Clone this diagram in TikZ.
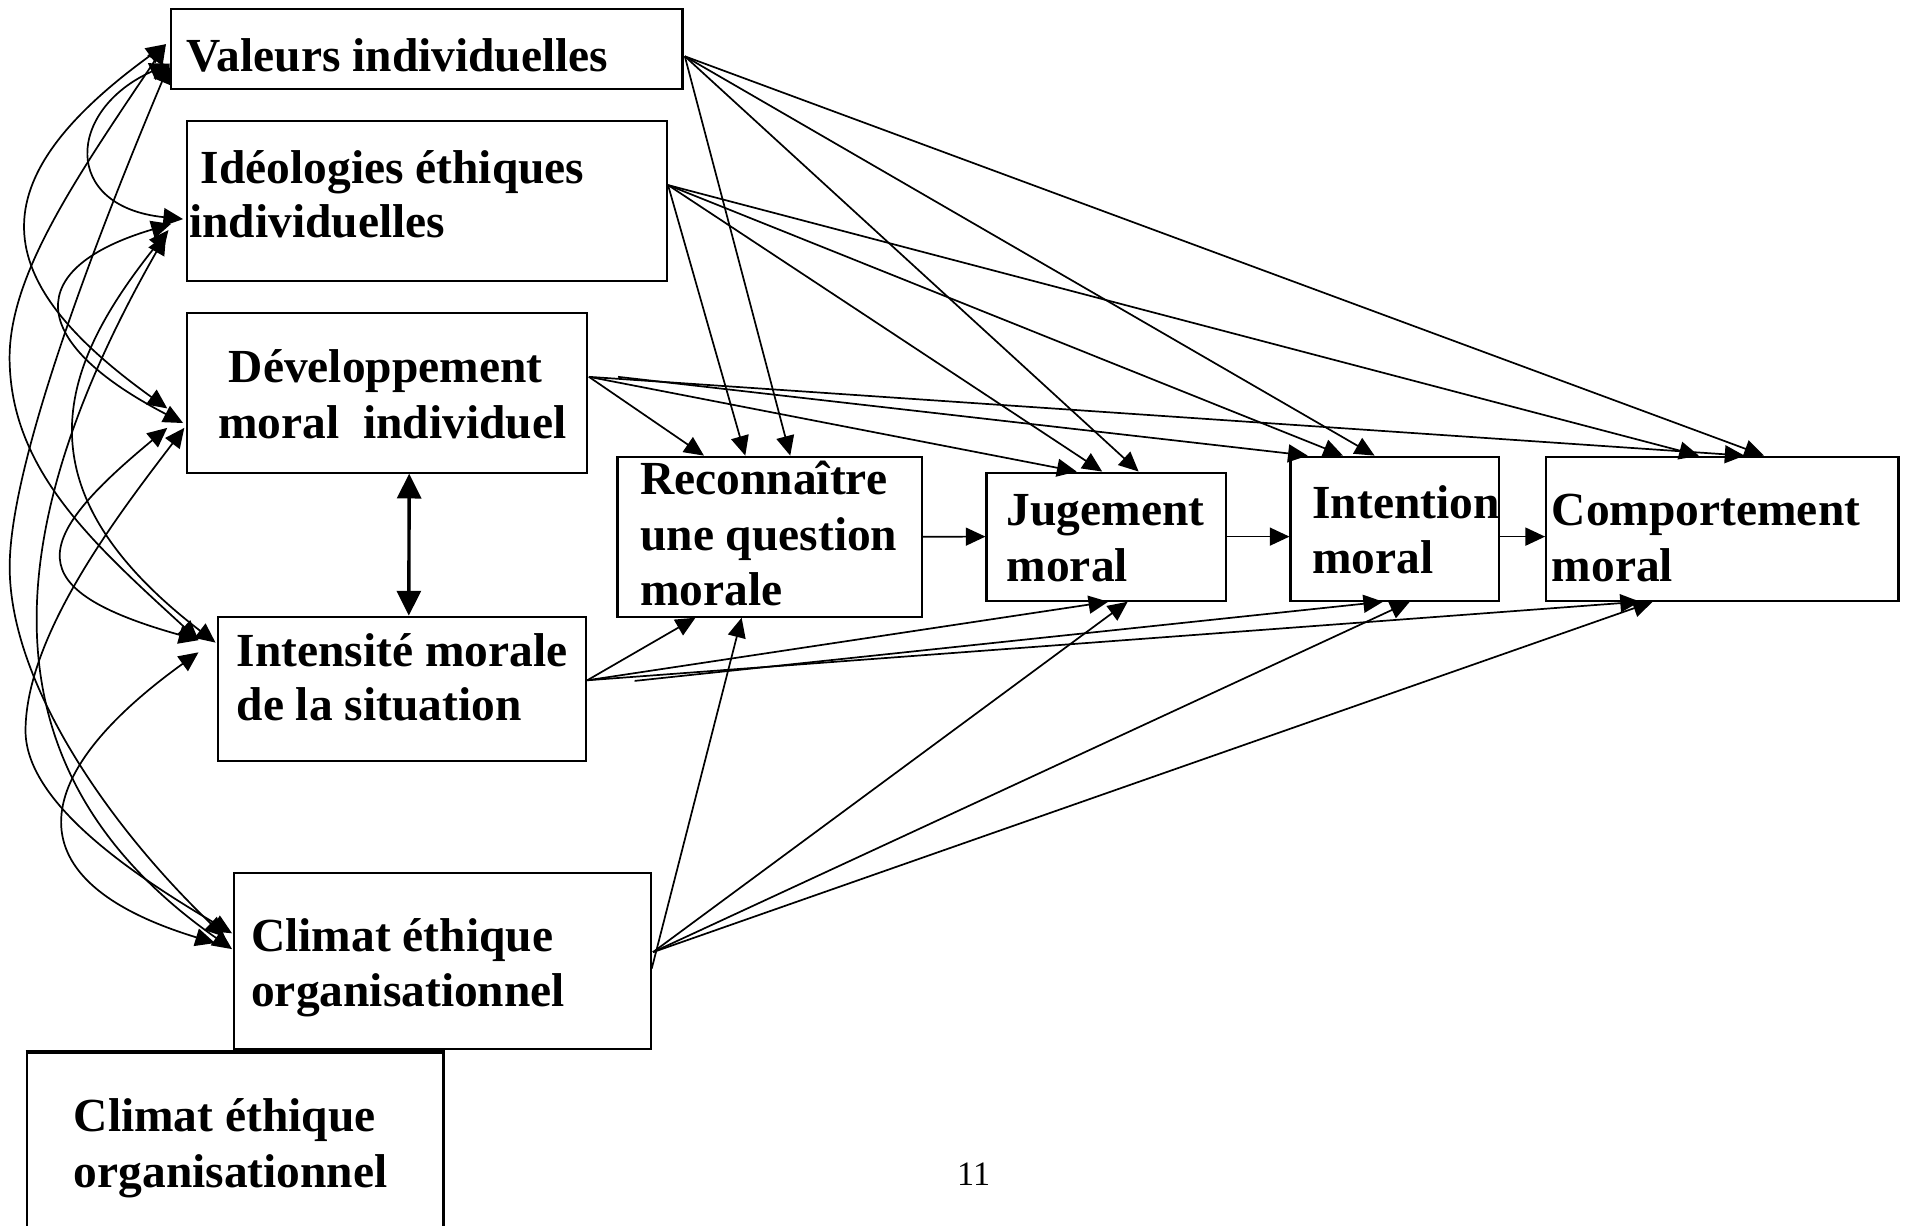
\documentclass[tikz,border=0pt]{standalone}
\usepackage{fontspec}
\setmainfont{Liberation Serif}
\usetikzlibrary{arrows.meta,calc,fit}

\begin{document}
\begin{tikzpicture}[x=0.01cm,y=-0.01cm,
  box/.style={draw,line width=0.5pt,inner sep=0pt},
  lbl/.style={anchor=base west,inner sep=0pt,font=\fontsize{11.1}{13.3}\selectfont\bfseries},
  arr/.style={line width=0.4pt,-{Triangle[length=4.6pt,width=4.2pt]}},
  corr/.style={line width=0.4pt,{Triangle[length=4.6pt,width=4.2pt]}-{Triangle[length=4.6pt,width=4.2pt]}},
  dbl/.style={line width=0.8pt,{Triangle[length=5.8pt,width=5.6pt]}-{Triangle[length=5.8pt,width=5.6pt]}}]
\useasboundingbox (0,0) rectangle (1568,1008);

\node[box,fit={(140.4,7.4) (561.5,73.2)}] (val) {};
\node[box,fit={(153.5,99.3) (548.7,231.2)}] (ide) {};
\node[box,fit={(153.5,257.2) (482.6,388.8)}] (dev) {};
\node[box,fit={(179.2,507.3) (482.2,626)}] (ints) {};
\node[box,fit={(192.8,718.4) (535.3,863.2)}] (cli) {};
\node[box,fit={(508,375.7) (758.5,507.3)}] (rec) {};
\node[box,fit={(811.6,388.8) (1008.8,494.1)}] (jug) {};
\node[box,fit={(1061.7,375.7) (1233,494.1)}] (inten) {};
\node[box,fit={(1272,375.7) (1561.8,494.1)}] (com) {};
\node[box,fit={(22,866.5) (364.8,1030)}] (cli2) {};
\draw[line width=0.9pt] (cli2.north west) -- (cli2.north east);

\node[lbl] (val1) at (153,59) {Valeurs individuelles};
\node[lbl] (ide1) at (164.5,151) {Idéologies éthiques};
\node[lbl] (ide2) at (155,195) {individuelles};
\node[lbl] (dev1) at (187.5,315) {Développement};
\node[lbl] (dev2) at (179,361) {moral~~individuel};
\node[lbl] (ints1) at (194,548) {Intensité morale};
\node[lbl] (ints2) at (194,593) {de la situation};
\node[lbl] (cli1) at (206,783) {Climat éthique};
\node[lbl] (cli3) at (206,828) {organisationnel};
\node[lbl] (rec1) at (526,407) {Reconnaître};
\node[lbl] (rec2) at (526,452.5) {une question};
\node[lbl] (rec3) at (526,498) {morale};
\node[lbl] (jug1) at (827.5,432) {Jugement};
\node[lbl] (jug2) at (827.5,478.5) {moral};
\node[lbl] (inten1) at (1079,426.4) {Intention};
\node[lbl] (inten2) at (1079,472) {moral};
\node[lbl] (com1) at (1276,432.7) {Comportement};
\node[lbl] (com2) at (1276,478.5) {moral};
\node[lbl] (cli2a) at (60,931) {Climat éthique};
\node[lbl] (cli2b) at (60,977) {organisationnel};
\node[anchor=base,inner sep=0pt,font=\fontsize{8}{9.6}\selectfont] (page) at (801,975) {11};

\draw[arr] ($(val.east)+(1,6)$) -- ($(rec.north west)+(143,0)$);
\draw[arr] ($(val.east)+(1,6)$) -- ($(jug.north west)+(126,0)$);
\draw[arr] ($(val.east)+(1,6)$) -- ($(inten.north west)+(70,0)$);
\draw[arr] ($(val.east)+(1,6)$) -- ($(com.north west)+(180,0)$);
\draw[arr] ($(ide.east)+(0,-13)$) -- ($(rec.north west)+(106,0)$);
\draw[arr] ($(ide.east)+(0,-13)$) -- ($(jug.north west)+(96,0)$);
\draw[arr] ($(ide.east)+(0,-13)$) -- ($(inten.north west)+(44,0)$);
\draw[arr] ($(ide.east)+(0,-13)$) -- ($(com.north west)+(126.5,0)$);
\draw[arr] ($(dev.east)+(1,-13)$) -- ($(rec.north west)+(72,0)$);
\draw[arr] ($(dev.east)+(1,-13)$) -- ($(jug.north west)+(75,0)$);
\draw[arr] ($(dev.east)+(25,-13)$) -- ($(inten.north west)+(15,0)$);
\draw[arr] ($(dev.east)+(1,-13)$) -- ($(com.north west)+(164,0)$);
\draw[arr] ($(ints.east)+(0,-7)$) -- ($(rec.south west)+(65,0)$);
\draw[arr] ($(ints.east)+(0,-7)$) -- ($(jug.south west)+(101,0)$);
\draw[arr] ($(ints.east)+(39,-6.5)$) -- ($(inten.south west)+(77,0)$);
\draw[arr] ($(ints.east)+(0,-7)$) -- ($(com.south west)+(78,0)$);
\draw[arr] ($(cli.east)+(0,6)$) -- ($(rec.south west)+(103,0)$);
\draw[arr] ($(cli.east)+(1,-7.5)$) -- ($(jug.south west)+(117,0)$);
\draw[arr] ($(cli.east)+(1,-7.5)$) -- ($(inten.south west)+(99,0)$);
\draw[arr] ($(cli.east)+(1,-7.5)$) -- ($(com.south west)+(88.5,0)$);

\draw[arr] (rec.east) -- (jug.west);
\draw[arr] (jug.east) -- (jug.east -| inten.west);
\draw[arr] (jug.east -| inten.east) -- (jug.east -| com.west);
\draw[dbl] ($(dev.south west)+(184,0)$) -- ($(ints.north west)+(158,0)$);

\draw[corr] ($(val.west)+(0,12)$) .. controls (55,90) and (50,170) .. ($(ide.west)+(-2,15)$);
\draw[corr] ($(val.west)+(-3,-4)$) .. controls (-20,150) and (-10,230) .. ($(dev.west)+(-15,13)$);
\draw[corr] ($(val.west)+(-3,-4)$) .. controls (60,150) and (5,230) .. (8,300) .. controls (11,390) and (80,450) .. ($(ints.west)+(-15,-40)$);
\draw[corr] ($(val.west)+(0,12)$) .. controls (90,170) and (10,370) .. (8,463) .. controls (6,560) and (90,680) .. ($(cli.west)+(-7,-20)$);
\draw[corr] ($(ide.west)+(-12,19)$) .. controls (20,220) and (20,280) .. ($(dev.west)+(-2,25)$);
\draw[corr] ($(ide.west)+(-14,24)$) .. controls (50,300) and (10,400) .. ($(ints.west)+(-1,-38)$);
\draw[corr] ($(ide.west)+(-16,28)$) .. controls (-10,450) and (-10,640) .. ($(cli.west)+(-1,-10)$);
\draw[corr] ($(dev.west)+(-15,29)$) .. controls (25,445) and (15,485) .. ($(ints.west)+(-15,-40)$);
\draw[corr] ($(dev.west)+(-1,29)$) .. controls (100,420) and (22,520) .. (21,600) .. controls (20,660) and (110,720) .. ($(cli.west)+(-1,-23)$);
\draw[corr] ($(ints.west)+(-15,-30)$) .. controls (20,640) and (10,725) .. ($(cli.west)+(-15,-15)$);
\end{tikzpicture}
\end{document}
